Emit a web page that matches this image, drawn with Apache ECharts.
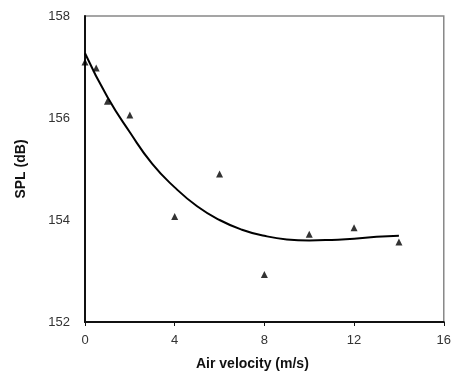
<!DOCTYPE html>
<html><head><meta charset="utf-8">
<script src="https://cdn.jsdelivr.net/npm/echarts@6/dist/echarts.min.js"></script>
<style>html,body{margin:0;padding:0;background:#fff}#c{width:454px;height:379px}</style>
</head><body><div id="c"></div>
<script>
// Measured points (air velocity m/s, SPL dB)
const measX = [0, 0.5, 1, 2, 4, 6, 8, 10, 12, 14];
const measY = [157.1, 156.98, 156.33, 156.06, 154.07, 154.9, 152.93, 153.72, 153.85, 153.57];
// Trend line
const trendX = [0, 1, 2, 3, 4, 5, 6, 7, 8, 9, 10, 11, 12, 13, 14];
const trendY = [157.27, 156.41, 155.72, 155.10, 154.64, 154.27, 154.0, 153.81, 153.69, 153.62, 153.6, 153.61, 153.63, 153.67, 153.69];
const xTicks = [0, 4, 8, 12, 16];
const yTicks = [152, 154, 156, 158];

const chart = echarts.init(document.getElementById('c'));
chart.setOption({
  animation: false,
  grid: {left: 85, right: 9, top: 16, bottom: 57, show: true, borderColor: '#888', borderWidth: 1.5},
  xAxis: {
    type: 'value', min: xTicks[0], max: xTicks[xTicks.length-1], interval: 4,
    name: 'Air velocity (m/s)', nameLocation: 'middle', nameGap: 35,
    nameTextStyle: {fontFamily: 'Liberation Sans', fontWeight: 'bold', fontSize: 14, color: '#111', padding: [0, 24, 0, 0]},
    axisLine: {lineStyle: {color: '#111', width: 2}},
    axisTick: {show: true, length: 4, lineStyle: {color: '#111', width: 1}},
    axisLabel: {fontFamily: 'Liberation Sans', fontSize: 13, color: '#333', margin: 12},
    splitLine: {show: false}
  },
  yAxis: {
    type: 'value', min: yTicks[0], max: yTicks[yTicks.length-1], interval: 2,
    name: 'SPL (dB)', nameLocation: 'middle', nameGap: 57, nameRotate: 90,
    nameTextStyle: {fontFamily: 'Liberation Sans', fontWeight: 'bold', fontSize: 14, color: '#111'},
    axisLine: {show: true, lineStyle: {color: '#111', width: 2}},
    axisTick: {show: false},
    axisLabel: {fontFamily: 'Liberation Sans', fontSize: 13, color: '#333', margin: 15},
    splitLine: {show: false}
  },
  series: [
    {type: 'line', data: trendX.map((x, i) => [x, trendY[i]]), smooth: true, showSymbol: false,
     lineStyle: {color: '#000', width: 2}, z: 2},
    {type: 'scatter', data: measX.map((x, i) => [x, measY[i]]), symbol: 'triangle', symbolSize: 7,
     itemStyle: {color: '#000'}, z: 3}
  ]
});
</script></body></html>
